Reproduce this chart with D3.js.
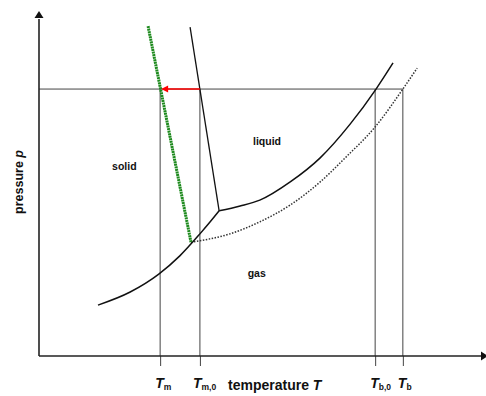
<!DOCTYPE html>
<html>
<head>
<meta charset="utf-8">
<script src="https://cdn.jsdelivr.net/npm/d3@7"></script>
<style>
  body { margin: 0; background: #fff; }
  text { font-family: "Liberation Sans", Arial, sans-serif; font-weight: bold; fill: #111; }
</style>
</head>
<body>
<script>
// phase diagram: pure solvent vs. solution (freezing point depression, boiling point elevation)

const width = 486;
const height = 396;

// temperatures of the marked points (arbitrary units 0..100)
const tempTicks = [27.1, 36.0, 75.2, 81.4];
const tickSubs = ["m", "m,0", "b,0", "b"];
const pressureLevel = 77.6;

// curves as [temperature, pressure]
const sublimation = [[13.2, 14.8], [20.4, 18.6], [26.8, 23.8], [31.5, 29.1], [36.0, 35.5], [38.3, 39.0], [40.3, 42.2]];
const vaporization = [[40.3, 42.2], [45.0, 43.6], [49.4, 45.3], [56.2, 50.6], [62.9, 57.6], [69.6, 67.4], [75.4, 77.6], [79.2, 85.2]];
const vaporizationSolution = [[34.0, 33.1], [42.7, 35.5], [49.4, 39.0], [56.2, 43.9], [62.9, 50.6], [68.5, 57.6], [75.2, 66.6], [81.4, 77.6], [84.6, 83.7]];
const melting = [[33.8, 95.6], [40.3, 42.2]];
const meltingSolution = [[24.4, 95.9], [34.0, 33.1]];

const regionLabels = ["solid", "liquid", "gas"];
const regionPos = [[19.1, 54.1], [51.0, 61.3], [48.7, 23.0]];

const svg = d3.select("body")
    .append("svg")
    .attr("width", width)
    .attr("height", height);

const x = d3.scaleLinear().domain([0, 100]).range([39, 486]);
const y = d3.scaleLinear().domain([0, 100]).range([356, 12]);

const line = d3.line()
    .x(d => x(d[0]))
    .y(d => y(d[1]))
    .curve(d3.curveMonotoneX);

// guide lines from the pressure level down through the axis
svg.append("line")
    .attr("x1", x(0)).attr("x2", x(tempTicks[3]))
    .attr("y1", y(pressureLevel)).attr("y2", y(pressureLevel))
    .attr("stroke", "#444").attr("stroke-width", 1);

svg.selectAll(".guide")
    .data(tempTicks)
    .enter()
    .append("line")
    .attr("class", "guide")
    .attr("x1", d => x(d)).attr("x2", d => x(d))
    .attr("y1", y(pressureLevel)).attr("y2", y(0))
    .attr("stroke", "#444").attr("stroke-width", 1);

// axis ticks (below the axis line)
const xAxis = svg.append("g")
    .attr("transform", `translate(0, ${y(0)})`)
    .call(d3.axisBottom(x).tickValues(tempTicks).tickSize(10).tickSizeOuter(0).tickFormat(""));
xAxis.select(".domain").remove();
xAxis.selectAll(".tick line").attr("stroke", "#444");

// axes with arrows
svg.append("line")
    .attr("x1", x(0)).attr("x2", x(0))
    .attr("y1", y(0)).attr("y2", y(98))
    .attr("stroke", "#222").attr("stroke-width", 1.6);
svg.append("path")
    .attr("d", `M${x(0)},${y(100) - 1} L${x(0) - 4.5},${y(100) + 6} L${x(0) + 4.5},${y(100) + 6} Z`)
    .attr("fill", "#111");
svg.append("line")
    .attr("x1", x(0)).attr("x2", x(99))
    .attr("y1", y(0)).attr("y2", y(0))
    .attr("stroke", "#222").attr("stroke-width", 1.6);
svg.append("path")
    .attr("d", `M${x(100) + 2},${y(0)} L${x(100) - 5},${y(0) - 4.5} L${x(100) - 5},${y(0) + 4.5} Z`)
    .attr("fill", "#111");

// phase boundaries
svg.append("path").datum(vaporizationSolution)
    .attr("d", line).attr("fill", "none")
    .attr("stroke", "#333").attr("stroke-width", 1.5)
    .attr("stroke-dasharray", "1.5,1.5");

svg.append("path").datum(sublimation)
    .attr("d", line).attr("fill", "none")
    .attr("stroke", "#111").attr("stroke-width", 1.5);

svg.append("path").datum(vaporization)
    .attr("d", line).attr("fill", "none")
    .attr("stroke", "#111").attr("stroke-width", 1.5);

svg.append("path").datum(melting)
    .attr("d", line).attr("fill", "none")
    .attr("stroke", "#111").attr("stroke-width", 1.3);

svg.append("path").datum(meltingSolution)
    .attr("d", line).attr("fill", "none")
    .attr("stroke", "#1e8a1e").attr("stroke-width", 3)
    .attr("stroke-dasharray", "2,0.6");

// red arrow: melting point shift
const ay = y(pressureLevel);
svg.append("line")
    .attr("x1", x(tempTicks[1])).attr("x2", x(tempTicks[0]) + 7)
    .attr("y1", ay).attr("y2", ay)
    .attr("stroke", "#f00").attr("stroke-width", 1.6);
svg.append("path")
    .attr("d", `M${x(tempTicks[0]) + 1},${ay} L${x(tempTicks[0]) + 8},${ay - 3.5} L${x(tempTicks[0]) + 8},${ay + 3.5} Z`)
    .attr("fill", "#f00");

// region labels
svg.selectAll(".region")
    .data(regionLabels)
    .enter()
    .append("text")
    .attr("class", "region")
    .attr("x", (d, i) => x(regionPos[i][0]))
    .attr("y", (d, i) => y(regionPos[i][1]))
    .attr("text-anchor", "middle")
    .style("font-size", "10.5px")
    .text(d => d);

// tick labels T with subscripts
const tl = svg.selectAll(".tlabel")
    .data(tempTicks)
    .enter()
    .append("text")
    .attr("class", "tlabel")
    .attr("x", (d, i) => x(d) - (i === 1 ? 7 : 5))
    .attr("y", 388)
    .style("font-size", "14px");
tl.append("tspan").style("font-style", "italic").text("T");
tl.append("tspan")
    .attr("dy", 2)
    .style("font-size", "8.5px")
    .text((d, i) => tickSubs[i]);

// axis titles
const xt = svg.append("text")
    .attr("x", 228)
    .attr("y", 390)
    .style("font-size", "14px");
xt.append("tspan").text("temperature ");
xt.append("tspan").style("font-style", "italic").text("T");

const yt = svg.append("text")
    .attr("transform", "translate(23, 182) rotate(-90)")
    .attr("text-anchor", "middle")
    .style("font-size", "12.5px");
yt.append("tspan").text("pressure ");
yt.append("tspan").style("font-style", "italic").text("p");
</script>
</body>
</html>
